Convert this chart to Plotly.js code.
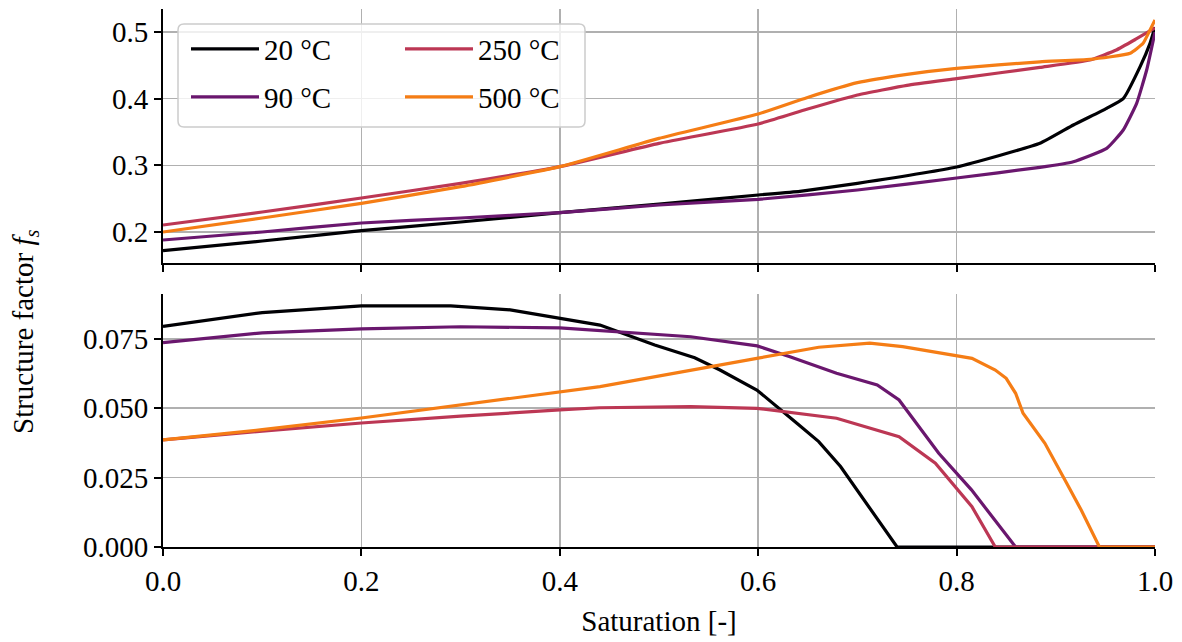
<!DOCTYPE html>
<html>
<head>
<meta charset="utf-8">
<script src="https://cdn.plot.ly/plotly-3.0.1.min.js"></script>
<style>html,body{margin:0;padding:0;background:#fff;}#chart{width:1182px;height:642px;}</style>
</head>
<body>
<div id="chart"></div>
<script>
// ---- data ----
const seriesLabels = ["20 °C", "90 °C", "250 °C", "500 °C"];

// top panel
const satTop20 = [0, 0.1, 0.2, 0.3, 0.4, 0.5, 0.6, 0.642, 0.7, 0.8, 0.884, 0.9177, 0.9513, 0.968, 0.985, 0.995, 1.0];
const fsTop20  = [0.172, 0.1865, 0.202, 0.215, 0.229, 0.242, 0.2555, 0.261, 0.273, 0.2975, 0.333, 0.3605, 0.3855, 0.4, 0.448, 0.483, 0.507];
const satTop90 = [0, 0.1, 0.2, 0.3, 0.4, 0.5, 0.6, 0.7, 0.8, 0.884, 0.9177, 0.9513, 0.968, 0.9815, 0.9916, 1.0];
const fsTop90  = [0.188, 0.2, 0.2135, 0.221, 0.229, 0.2405, 0.249, 0.263, 0.281, 0.297, 0.3055, 0.3255, 0.353, 0.393, 0.443, 0.5];
const satTop250 = [0, 0.1, 0.2, 0.3, 0.4, 0.5, 0.6, 0.649, 0.7, 0.75, 0.8, 0.884, 0.9345, 0.961, 0.9815, 1.0];
const fsTop250  = [0.2105, 0.23, 0.251, 0.273, 0.298, 0.333, 0.362, 0.384, 0.4055, 0.42, 0.43, 0.447, 0.458, 0.473, 0.49, 0.506];
const satTop500 = [0, 0.1, 0.2, 0.3, 0.4, 0.5, 0.6, 0.649, 0.7, 0.75, 0.8, 0.884, 0.9345, 0.975, 0.988, 0.995, 1.0];
const fsTop500  = [0.2, 0.221, 0.243, 0.268, 0.298, 0.3405, 0.377, 0.4015, 0.424, 0.4365, 0.4455, 0.4553, 0.459, 0.468, 0.483, 0.503, 0.518];

// bottom panel
const satBot20 = [0, 0.1, 0.2, 0.29, 0.35, 0.4, 0.4405, 0.4957, 0.536, 0.5615, 0.5986, 0.639, 0.661, 0.683, 0.74, 0.8, 0.9, 1.0];
const fsBot20  = [0.0795, 0.0845, 0.0869, 0.0869, 0.0855, 0.0826, 0.080, 0.0728, 0.0682, 0.0638, 0.0566, 0.0446, 0.038, 0.029, 0, 0, 0, 0];
const satBot90 = [0, 0.1, 0.2, 0.3, 0.4, 0.44, 0.532, 0.599, 0.632, 0.679, 0.72, 0.742, 0.782, 0.815, 0.841, 0.8595, 0.9, 1.0];
const fsBot90  = [0.0737, 0.0772, 0.0786, 0.0794, 0.079, 0.078, 0.0758, 0.0725, 0.0686, 0.0626, 0.0584, 0.053, 0.0338, 0.0206, 0.0085, 0, 0, 0];
const satBot250 = [0, 0.1, 0.2, 0.3, 0.4, 0.44, 0.532, 0.5986, 0.679, 0.742, 0.7786, 0.8155, 0.839, 0.9, 1.0];
const fsBot250  = [0.0386, 0.0418, 0.0447, 0.0472, 0.0494, 0.0502, 0.0506, 0.05, 0.0464, 0.0398, 0.0302, 0.0145, 0, 0, 0];
const satBot500 = [0, 0.1, 0.2, 0.4, 0.4405, 0.5986, 0.661, 0.7125, 0.7456, 0.8155, 0.839, 0.85, 0.8595, 0.867, 0.889, 0.911, 0.9256, 0.944, 1.0];
const fsBot500  = [0.0386, 0.0423, 0.0465, 0.056, 0.0578, 0.068, 0.072, 0.0735, 0.0722, 0.068, 0.0638, 0.0608, 0.0554, 0.0482, 0.0374, 0.023, 0.0133, 0, 0];

const xTickVals = [0, 0.2, 0.4, 0.6, 0.8, 1.0];
const yTopTickVals = [0.2, 0.3, 0.4, 0.5];
const yBotTickVals = [0, 0.025, 0.05, 0.075];

// ---- styling ----
const colors = ["#000004", "#6a176e", "#bc3754", "#f57d15"];
const FONT = "Liberation Serif, Times New Roman, serif";
const FS = 29;
const legendIds = ["legend", "legend2", "legend3", "legend4"];

const topX = [satTop20, satTop90, satTop250, satTop500];
const topY = [fsTop20, fsTop90, fsTop250, fsTop500];
const botX = [satBot20, satBot90, satBot250, satBot500];
const botY = [fsBot20, fsBot90, fsBot250, fsBot500];

const traces = [];
for (let i = 0; i < 4; i++) {
  traces.push({
    x: topX[i], y: topY[i], xaxis: "x2", yaxis: "y2", type: "scatter", mode: "lines",
    name: seriesLabels[i], legend: legendIds[i],
    line: {color: colors[i], width: 3.2, shape: "spline", smoothing: 0.4}
  });
}
for (let i = 0; i < 4; i++) {
  traces.push({
    x: botX[i], y: botY[i], xaxis: "x", yaxis: "y", type: "scatter", mode: "lines",
    name: seriesLabels[i], showlegend: false,
    line: {color: colors[i], width: 3.2}
  });
}

const W = 1182, H = 642;
// plot area px: left 163, right 1155, top 9, bottom 547
const plotTop = 9, plotBot = 547, plotL = 163, plotR = 1155;
const ph = plotBot - plotTop, pw = plotR - plotL;
const pyN = py => (plotBot - py) / ph;
const pxN = px => (px - plotL) / pw;

// legend positions (px): legend left x, row center y
const legPos = [[186, 49], [186, 97], [400, 49], [400, 97]];

function legendDef(px, py) {
  return {
    xref: "paper", yref: "paper",
    x: pxN(px), y: pyN(py), xanchor: "left", yanchor: "middle",
    bgcolor: "rgba(0,0,0,0)", borderwidth: 0,
    itemwidth: 68,
    font: {family: FONT, size: FS, color: "#000"}
  };
}

const axisCommon = {
  showline: true, linecolor: "#000", linewidth: 2,
  ticks: "outside", ticklen: 7, tickwidth: 2, tickcolor: "#000",
  showgrid: true, gridcolor: "#b0b0b0", gridwidth: 1.6,
  zeroline: false, mirror: false,
  tickfont: {family: FONT, size: FS, color: "#000"}
};

// rounded legend frame
const bx0 = pxN(178), bx1 = pxN(585), by0 = pyN(127), by1 = pyN(24);
const rx = 6 / pw, ry = 6 / ph;
const framePath = `M ${bx0 + rx},${by1} L ${bx1 - rx},${by1} Q ${bx1},${by1} ${bx1},${by1 - ry} ` +
  `L ${bx1},${by0 + ry} Q ${bx1},${by0} ${bx1 - rx},${by0} L ${bx0 + rx},${by0} ` +
  `Q ${bx0},${by0} ${bx0},${by0 + ry} L ${bx0},${by1 - ry} Q ${bx0},${by1} ${bx0 + rx},${by1} Z`;

const layout = {
  width: W, height: H,
  margin: {l: plotL, r: W - plotR, t: plotTop, b: H - plotBot, autoexpand: false},
  paper_bgcolor: "#fff", plot_bgcolor: "#fff",
  font: {family: FONT, size: FS, color: "#000"},
  showlegend: true,
  xaxis: Object.assign({}, axisCommon, {
    domain: [0, 1], anchor: "y", range: [0, 1],
    tickvals: xTickVals, tickformat: ".1f",
    title: {text: "Saturation [-]", font: {family: FONT, size: FS}, standoff: 15}
  }),
  xaxis2: Object.assign({}, axisCommon, {
    domain: [0, 1], anchor: "y2", range: [0, 1], matches: "x",
    tickvals: xTickVals, showticklabels: false
  }),
  yaxis: Object.assign({}, axisCommon, {
    domain: [0, (plotBot - 294) / ph], anchor: "x", range: [0, 0.0912],
    tickvals: yBotTickVals, tickformat: ".3f"
  }),
  yaxis2: Object.assign({}, axisCommon, {
    domain: [(plotBot - 263) / ph, 1], anchor: "x2", range: [0.1535, 0.5345],
    tickvals: yTopTickVals, tickformat: ".1f"
  }),
  shapes: [{
    type: "path", xref: "paper", yref: "paper", path: framePath, layer: "above",
    fillcolor: "rgba(255,255,255,0.8)", line: {color: "#cccccc", width: 1.5}
  }],
  annotations: [{
    text: "Structure factor <i>f<sub>s</sub></i>", textangle: -90,
    xref: "paper", yref: "paper", x: pxN(25), y: pyN(332),
    xanchor: "center", yanchor: "middle", showarrow: false,
    font: {family: FONT, size: FS, color: "#000"}
  }]
};
legendIds.forEach((id, i) => { layout[id] = legendDef(legPos[i][0], legPos[i][1]); });

Plotly.newPlot("chart", traces, layout, {displayModeBar: false, staticPlot: true});
</script>
</body>
</html>
